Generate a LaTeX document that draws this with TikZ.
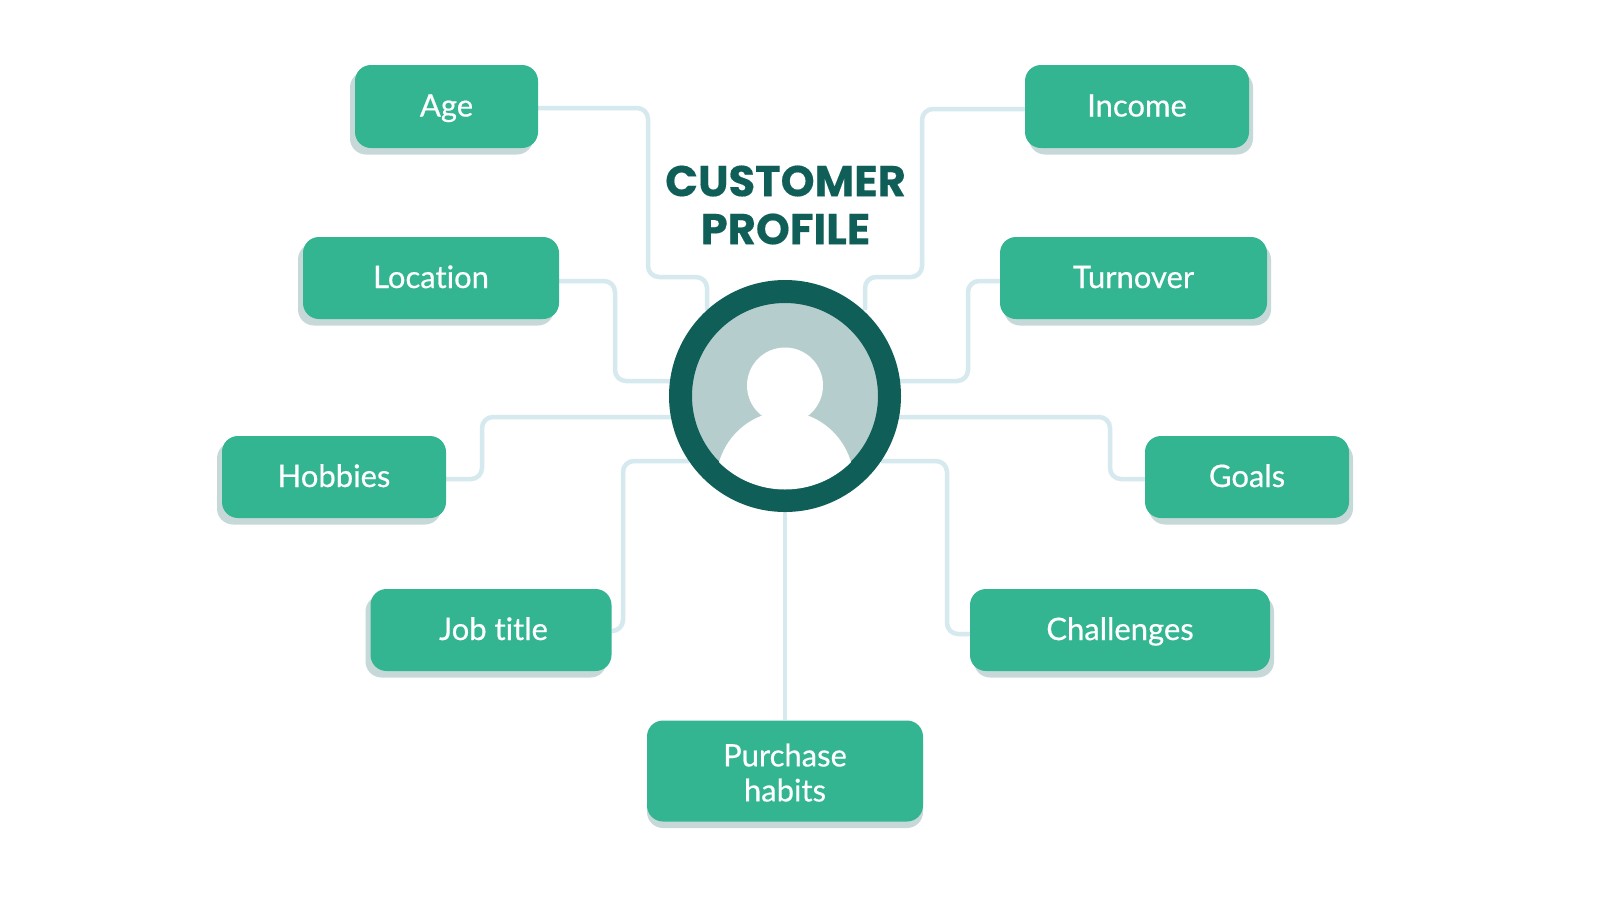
\documentclass[tikz,border=0pt]{standalone}
\usepackage{fontspec}
\setmainfont{Lato}[Ligatures=NoCommon,FakeBold=0.45]
\newfontfamily\titlefont{Poppins}[FakeBold=0.3]
\usetikzlibrary{shadows,backgrounds}
\pgfdeclarelayer{paper}
\pgfsetlayers{paper,background,main}
\definecolor{boxgreen}{HTML}{33B592}
\definecolor{boxshade}{HTML}{C6D9D8}
\definecolor{wire}{HTML}{D5E9EF}
\definecolor{ringgreen}{HTML}{0F5F58}
\definecolor{facefill}{HTML}{B5CECD}
\tikzset{
  x=1pt,y=-1pt,
  cardbase/.style={rectangle,rounded corners=16pt,fill=boxgreen,text=white,align=center,
    font=\fontsize{31}{35}\selectfont,inner sep=0pt},
  oneline/.style={text height=24pt,text depth=4pt},
  cardleft/.style={cardbase,oneline,copy shadow={shadow xshift=-5pt,shadow yshift=-6.5pt,fill=boxshade,draw=none,opacity=1}},
  cardright/.style={cardbase,oneline,copy shadow={shadow xshift=4pt,shadow yshift=-6.5pt,fill=boxshade,draw=none,opacity=1}},
  cardmid/.style={cardbase,copy shadow={shadow xshift=0pt,shadow yshift=-6.5pt,fill=boxshade,draw=none,opacity=1}},
  wireline/.style={draw=wire,line width=4.5pt,rounded corners=11pt},
}
\begin{document}
\begin{tikzpicture}
\useasboundingbox (0,0) rectangle (1600,900);
\begin{pgfonlayer}{paper}
\fill[white] (0,0) rectangle (1600,900);
\end{pgfonlayer}

% cards
\node[cardleft,minimum width=183pt,minimum height=83pt] (age) at (446.5,106.5) {Age};
\node[cardright,minimum width=224pt,minimum height=83pt] (income) at (1137,106.5) {Income};
\node[cardleft,minimum width=256pt,minimum height=82pt] (location) at (431,278) {Location};
\node[cardright,minimum width=267pt,minimum height=82pt] (turnover) at (1133.5,278) {Turnover};
\node[cardleft,minimum width=224pt,minimum height=82pt] (hobbies) at (334,477) {Hobbies};
\node[cardright,minimum width=204pt,minimum height=82pt] (goals) at (1247,477) {Goals};
\node[cardleft,minimum width=241pt,minimum height=82pt] (job) at (491,630) {\hspace{5pt}Job title};
\node[cardright,minimum width=300pt,minimum height=82pt] (challenges) at (1120,630) {Challenges};
\node[cardmid,minimum width=276pt,minimum height=101pt] (purchase) at (785,771) {\rule{0pt}{26pt}Purchase\\habits};

% title
\node[text=ringgreen,align=center,font=\titlefont\bfseries\fontsize{43.2}{48}\selectfont] (title) at (785.5,205) {CUSTOMER\\PROFILE};

% hub
\node[circle,draw=ringgreen,line width=23pt,fill=facefill,minimum size=209pt,inner sep=0pt,outer sep=11.5pt] (hub) at (785,396) {};
\begin{scope}
  \clip (785,396) circle[radius=93.5];
  \fill[white] (785,385.5) circle[radius=38];
  \fill[white] (717,470) .. controls (723,440) and (743,423) .. (761,416)
    -- (809,416) .. controls (827,423) and (847,440) .. (853,470) -- (853,500) -- (717,500) -- cycle;
\end{scope}

% connectors
\coordinate (a1) at (648,108); \coordinate (a2) at (648,277); \coordinate (a3) at (707,277);
\coordinate (b1) at (922,109); \coordinate (b2) at (922,277); \coordinate (b3) at (865,277);
\coordinate (c1) at (615,281); \coordinate (c2) at (615,381);
\coordinate (d1) at (968,281); \coordinate (d2) at (968,381);
\coordinate (e1) at (482,479); \coordinate (e2) at (482,417);
\coordinate (f1) at (1110,479); \coordinate (f2) at (1110,417);
\coordinate (g1) at (623,631); \coordinate (g2) at (623,461);
\coordinate (h1) at (947,634); \coordinate (h2) at (947,461);
\begin{scope}[on background layer]
\draw[wireline] (age.east |- a1) -- (a1) -- (a2) -- (a3) -- (a3 |- hub.132);
\draw[wireline] (income.west |- b1) -- (b1) -- (b2) -- (b3) -- (b3 |- hub.48);
\draw[wireline] (location.east |- c1) -- (c1) -- (c2) -- (c2 -| hub.172.6);
\draw[wireline] (turnover.west |- d1) -- (d1) -- (d2) -- (d2 -| hub.7.4);
\draw[wireline] (hobbies.east |- e1) -- (e1) -- (e2) -- (e2 -| hub.190.4);
\draw[wireline] (goals.west |- f1) -- (f1) -- (f2) -- (f2 -| hub.349.6);
\draw[wireline] (job.east |- g1) -- (g1) -- (g2) -- (g2 -| hub.214);
\draw[wireline] (challenges.west |- h1) -- (h1) -- (h2) -- (h2 -| hub.326);
\draw[wireline] (hub.south) -- (purchase.north);
\end{scope}
\end{tikzpicture}
\end{document}
